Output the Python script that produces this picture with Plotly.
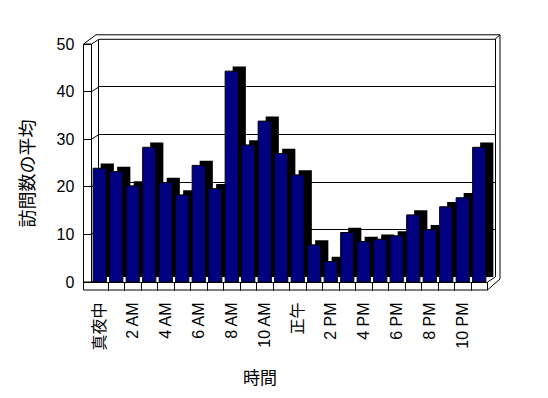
import plotly.graph_objects as go

# ---- data ----
hours = ["真夜中", "1 AM", "2 AM", "3 AM", "4 AM", "5 AM", "6 AM", "7 AM",
         "8 AM", "9 AM", "10 AM", "11 AM", "正午", "1 PM", "2 PM", "3 PM",
         "4 PM", "5 PM", "6 PM", "7 PM", "8 PM", "9 PM", "10 PM", "11 PM"]
visits = [23.9, 23.2, 20.2, 28.3, 20.9, 18.3, 24.5, 19.6, 44.3, 28.8, 33.8, 27.0,
          22.5, 7.8, 4.3, 10.4, 8.5, 9.0, 9.7, 14.1, 11.0, 15.8, 17.7, 28.3]
y_ticks = [0, 10, 20, 30, 40, 50]
y_title = "訪問数の平均"
x_title = "時間"

# ---- layout geometry (screen pixels; page body has an 8px margin) ----
OFF = 8
W, H = 548 - 2 * OFF, 398 - 2 * OFF
def fx(p):
    return (p - OFF) / W
def fy(p):
    return 1 - (p - OFF) / H

FL, FR, FB, FT = 91.5, 487.5, 282.0, 44.0   # front plane
DX, DY = 7.5, 4.7                            # depth offset
YMAX = 50

idx = list(range(len(hours)))
FONT = "Liberation Sans, Noto Sans CJK JP, sans-serif"

fig = go.Figure()
# back plane: bar extrusion (black)
fig.add_trace(go.Bar(x=idx, y=visits, xaxis="x", yaxis="y", width=0.8,
                     marker=dict(color="black", line=dict(width=0)),
                     hoverinfo="skip"))
# front plane: bar faces
fig.add_trace(go.Bar(x=idx, y=visits, xaxis="x2", yaxis="y2", width=0.8,
                     marker=dict(color="#000080", line=dict(color="black", width=1))))

line = dict(color="black", width=1)
shapes = []
def seg(x0, y0, x1, y1, layer="above"):
    shapes.append(dict(type="line", xref="paper", yref="paper",
                       x0=fx(x0), y0=fy(y0), x1=fx(x1), y1=fy(y1),
                       line=line, layer=layer))

# tick connectors across left wall inner face
for v in y_ticks:
    yf = FB - (FB - FT) * v / YMAX
    seg(FL, yf, FL + DX, yf - DY, layer="below")
# top gridline (back wall top edge)
seg(FL + DX, FT - DY, FR + DX, FT - DY)
# left wall outer edges
seg(83.5, FT, 83.5, 290)
seg(83.5, FT, FL, FT)
seg(83.5, FT, 96, 34.8)
seg(96, 34.8, 500, 34.8)
seg(FR + DX, FT - DY, 500, 34.8)
seg(500, 34.8, 500, 279)
# floor
seg(83.5, FB, FL, FB)
seg(83.5, 290, FR, 290)
seg(FR, FB, FR, 290)
seg(FR, 290, 500, 279)
seg(FR, FB, FR + DX, FB - DY)

fig.update_layout(
    width=W, height=H,
    margin=dict(l=0, r=0, t=0, b=0),
    paper_bgcolor="white", plot_bgcolor="rgba(0,0,0,0)",
    showlegend=False, barmode="overlay",
    font=dict(family=FONT, size=16, color="black"),
    xaxis=dict(domain=[fx(FL + DX), fx(FR + DX)], range=[-0.5, 23.5], anchor="y",
               showticklabels=False, ticks="", showgrid=False, zeroline=False,
               showline=False, automargin=False),
    yaxis=dict(domain=[fy(FB - DY), fy(FT - DY)], range=[0, YMAX], anchor="x",
               tickvals=y_ticks, showticklabels=False, ticks="",
               showgrid=True, gridcolor="black", gridwidth=1, zeroline=False,
               showline=True, mirror=True, linecolor="black", linewidth=1,
               automargin=False),
    xaxis2=dict(domain=[fx(FL), fx(FR)], range=[-0.5, 23.5], anchor="y2",
                tickmode="array", tickvals=idx[::2], ticktext=hours[::2],
                tickangle=-90, ticks="outside", ticklen=13,
                tickcolor="rgba(0,0,0,0)",
                minor=dict(tickmode="array", tickvals=[i + 0.5 for i in idx[:-1]],
                           ticks="outside", ticklen=8, tickcolor="black",
                           tickwidth=1, showgrid=False),
                showgrid=False, zeroline=False, showline=True,
                linecolor="black", linewidth=1, automargin=False,
                tickfont=dict(size=16)),
    yaxis2=dict(domain=[fy(FB), fy(FT)], range=[0, YMAX], anchor="x2",
                tickvals=y_ticks, ticks="outside", ticklen=8, tickcolor="black",
                ticklabelstandoff=5,
                showgrid=False, zeroline=False, showline=True,
                linecolor="black", linewidth=1, automargin=False,
                tickfont=dict(size=16)),
    shapes=shapes,
    annotations=[
        dict(text=y_title, xref="paper", yref="paper", x=fx(27.5), y=fy(174),
             textangle=-90, showarrow=False, font=dict(size=18),
             xanchor="center", yanchor="middle"),
        dict(text=x_title, xref="paper", yref="paper", x=fx(260), y=fy(378),
             showarrow=False, font=dict(size=17),
             xanchor="center", yanchor="middle"),
    ],
)

fig.write_html("out.html")
